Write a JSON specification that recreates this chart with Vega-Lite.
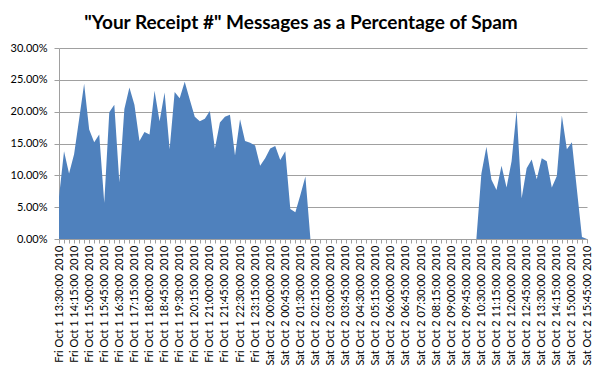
{
  "$schema": "https://vega.github.io/schema/vega-lite/v6.json",
  "width": 528,
  "height": 191,
  "autosize": {"type": "none"},
  "padding": {"left": 59, "top": 48, "right": 13, "bottom": 139},
  "background": "white",
  "title": {"text": "\"Your Receipt #\" Messages as a Percentage of Spam", "font": "Lato", "fontSize": 19, "fontWeight": "bold", "color": "#000000", "anchor": "middle", "dx": -22, "offset": 9},
  "data": {"values": [
    {"t": "Fri Oct 1 13:30:00 2010", "v": 0.066},
    {"t": "Fri Oct 1 13:45:00 2010", "v": 0.138},
    {"t": "Fri Oct 1 14:00:00 2010", "v": 0.103},
    {"t": "Fri Oct 1 14:15:00 2010", "v": 0.133},
    {"t": "Fri Oct 1 14:30:00 2010", "v": 0.188},
    {"t": "Fri Oct 1 14:45:00 2010", "v": 0.244},
    {"t": "Fri Oct 1 15:00:00 2010", "v": 0.172},
    {"t": "Fri Oct 1 15:15:00 2010", "v": 0.152},
    {"t": "Fri Oct 1 15:30:00 2010", "v": 0.164},
    {"t": "Fri Oct 1 15:45:00 2010", "v": 0.057},
    {"t": "Fri Oct 1 16:00:00 2010", "v": 0.199},
    {"t": "Fri Oct 1 16:15:00 2010", "v": 0.211},
    {"t": "Fri Oct 1 16:30:00 2010", "v": 0.089},
    {"t": "Fri Oct 1 16:45:00 2010", "v": 0.204},
    {"t": "Fri Oct 1 17:00:00 2010", "v": 0.238},
    {"t": "Fri Oct 1 17:15:00 2010", "v": 0.211},
    {"t": "Fri Oct 1 17:30:00 2010", "v": 0.154},
    {"t": "Fri Oct 1 17:45:00 2010", "v": 0.168},
    {"t": "Fri Oct 1 18:00:00 2010", "v": 0.164},
    {"t": "Fri Oct 1 18:15:00 2010", "v": 0.233},
    {"t": "Fri Oct 1 18:30:00 2010", "v": 0.185},
    {"t": "Fri Oct 1 18:45:00 2010", "v": 0.230},
    {"t": "Fri Oct 1 19:00:00 2010", "v": 0.141},
    {"t": "Fri Oct 1 19:15:00 2010", "v": 0.231},
    {"t": "Fri Oct 1 19:30:00 2010", "v": 0.221},
    {"t": "Fri Oct 1 19:45:00 2010", "v": 0.247},
    {"t": "Fri Oct 1 20:00:00 2010", "v": 0.219},
    {"t": "Fri Oct 1 20:15:00 2010", "v": 0.192},
    {"t": "Fri Oct 1 20:30:00 2010", "v": 0.185},
    {"t": "Fri Oct 1 20:45:00 2010", "v": 0.189},
    {"t": "Fri Oct 1 21:00:00 2010", "v": 0.201},
    {"t": "Fri Oct 1 21:15:00 2010", "v": 0.142},
    {"t": "Fri Oct 1 21:30:00 2010", "v": 0.183},
    {"t": "Fri Oct 1 21:45:00 2010", "v": 0.192},
    {"t": "Fri Oct 1 22:00:00 2010", "v": 0.195},
    {"t": "Fri Oct 1 22:15:00 2010", "v": 0.131},
    {"t": "Fri Oct 1 22:30:00 2010", "v": 0.188},
    {"t": "Fri Oct 1 22:45:00 2010", "v": 0.154},
    {"t": "Fri Oct 1 23:00:00 2010", "v": 0.151},
    {"t": "Fri Oct 1 23:15:00 2010", "v": 0.147},
    {"t": "Fri Oct 1 23:30:00 2010", "v": 0.115},
    {"t": "Fri Oct 1 23:45:00 2010", "v": 0.127},
    {"t": "Sat Oct 2 00:00:00 2010", "v": 0.142},
    {"t": "Sat Oct 2 00:15:00 2010", "v": 0.146},
    {"t": "Sat Oct 2 00:30:00 2010", "v": 0.124},
    {"t": "Sat Oct 2 00:45:00 2010", "v": 0.138},
    {"t": "Sat Oct 2 01:00:00 2010", "v": 0.047},
    {"t": "Sat Oct 2 01:15:00 2010", "v": 0.042},
    {"t": "Sat Oct 2 01:30:00 2010", "v": 0.069},
    {"t": "Sat Oct 2 01:45:00 2010", "v": 0.098},
    {"t": "Sat Oct 2 02:00:00 2010", "v": 0},
    {"t": "Sat Oct 2 02:15:00 2010", "v": 0},
    {"t": "Sat Oct 2 02:30:00 2010", "v": 0},
    {"t": "Sat Oct 2 02:45:00 2010", "v": 0},
    {"t": "Sat Oct 2 03:00:00 2010", "v": 0},
    {"t": "Sat Oct 2 03:15:00 2010", "v": 0},
    {"t": "Sat Oct 2 03:30:00 2010", "v": 0},
    {"t": "Sat Oct 2 03:45:00 2010", "v": 0},
    {"t": "Sat Oct 2 04:00:00 2010", "v": 0},
    {"t": "Sat Oct 2 04:15:00 2010", "v": 0},
    {"t": "Sat Oct 2 04:30:00 2010", "v": 0},
    {"t": "Sat Oct 2 04:45:00 2010", "v": 0},
    {"t": "Sat Oct 2 05:00:00 2010", "v": 0},
    {"t": "Sat Oct 2 05:15:00 2010", "v": 0},
    {"t": "Sat Oct 2 05:30:00 2010", "v": 0},
    {"t": "Sat Oct 2 05:45:00 2010", "v": 0},
    {"t": "Sat Oct 2 06:00:00 2010", "v": 0},
    {"t": "Sat Oct 2 06:15:00 2010", "v": 0},
    {"t": "Sat Oct 2 06:30:00 2010", "v": 0},
    {"t": "Sat Oct 2 06:45:00 2010", "v": 0},
    {"t": "Sat Oct 2 07:00:00 2010", "v": 0},
    {"t": "Sat Oct 2 07:15:00 2010", "v": 0},
    {"t": "Sat Oct 2 07:30:00 2010", "v": 0},
    {"t": "Sat Oct 2 07:45:00 2010", "v": 0},
    {"t": "Sat Oct 2 08:00:00 2010", "v": 0},
    {"t": "Sat Oct 2 08:15:00 2010", "v": 0},
    {"t": "Sat Oct 2 08:30:00 2010", "v": 0},
    {"t": "Sat Oct 2 08:45:00 2010", "v": 0},
    {"t": "Sat Oct 2 09:00:00 2010", "v": 0},
    {"t": "Sat Oct 2 09:15:00 2010", "v": 0},
    {"t": "Sat Oct 2 09:30:00 2010", "v": 0},
    {"t": "Sat Oct 2 09:45:00 2010", "v": 0},
    {"t": "Sat Oct 2 10:00:00 2010", "v": 0},
    {"t": "Sat Oct 2 10:15:00 2010", "v": 0},
    {"t": "Sat Oct 2 10:30:00 2010", "v": 0.103},
    {"t": "Sat Oct 2 10:45:00 2010", "v": 0.145},
    {"t": "Sat Oct 2 11:00:00 2010", "v": 0.093},
    {"t": "Sat Oct 2 11:15:00 2010", "v": 0.077},
    {"t": "Sat Oct 2 11:30:00 2010", "v": 0.115},
    {"t": "Sat Oct 2 11:45:00 2010", "v": 0.081},
    {"t": "Sat Oct 2 12:00:00 2010", "v": 0.122},
    {"t": "Sat Oct 2 12:15:00 2010", "v": 0.202},
    {"t": "Sat Oct 2 12:30:00 2010", "v": 0.064},
    {"t": "Sat Oct 2 12:45:00 2010", "v": 0.111},
    {"t": "Sat Oct 2 13:00:00 2010", "v": 0.125},
    {"t": "Sat Oct 2 13:15:00 2010", "v": 0.094},
    {"t": "Sat Oct 2 13:30:00 2010", "v": 0.127},
    {"t": "Sat Oct 2 13:45:00 2010", "v": 0.122},
    {"t": "Sat Oct 2 14:00:00 2010", "v": 0.081},
    {"t": "Sat Oct 2 14:15:00 2010", "v": 0.099},
    {"t": "Sat Oct 2 14:30:00 2010", "v": 0.194},
    {"t": "Sat Oct 2 14:45:00 2010", "v": 0.141},
    {"t": "Sat Oct 2 15:00:00 2010", "v": 0.152},
    {"t": "Sat Oct 2 15:15:00 2010", "v": 0.077},
    {"t": "Sat Oct 2 15:30:00 2010", "v": 0.003},
    {"t": "Sat Oct 2 15:45:00 2010", "v": 0}
  ]},
  "mark": {"type": "area", "color": "#4F81BD", "opacity": 1},
  "encoding": {
    "x": {
      "field": "t", "type": "ordinal", "sort": null,
      "scale": {"type": "point", "padding": 0},
      "axis": {
        "title": null, "labelAngle": -90, "labelOverlap": false,
        "labelExpr": "round(datum.index*105)%3===0 ? datum.label : ''",
        "labelFont": "Lato", "labelFontSize": 11, "labelColor": "#000000",
        "labelPadding": 2, "labelBound": false, "labelFlush": false,
        "tickSize": 4, "tickColor": "#A0A0A0", "domainColor": "#A0A0A0", "grid": false
      }
    },
    "y": {
      "field": "v", "type": "quantitative",
      "scale": {"domain": [0, 0.3], "nice": false},
      "axis": {
        "title": null, "format": ".2%", "values": [0, 0.05, 0.1, 0.15, 0.2, 0.25, 0.3],
        "grid": true, "gridColor": "#A0A0A0", "gridWidth": 1,
        "domainColor": "#A0A0A0", "tickColor": "#A0A0A0", "tickSize": 5,
        "labelPadding": 7, "labelFont": "Lato", "labelFontSize": 11, "labelColor": "#000000"
      }
    }
  },
  "config": {"view": {"stroke": null}}
}
